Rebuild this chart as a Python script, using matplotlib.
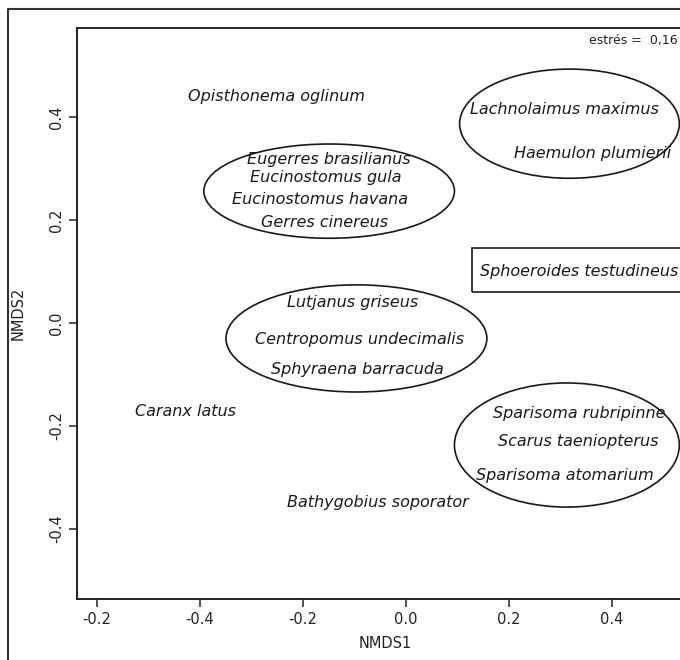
import matplotlib
matplotlib.use("Agg")
import matplotlib.pyplot as plt
from matplotlib.patches import Ellipse, Rectangle
from matplotlib.lines import Line2D

# ---- data ----
species = ["Opisthonema oglinum", "Lachnolaimus maximus", "Haemulon plumierii",
           "Eugerres brasilianus", "Eucinostomus gula", "Eucinostomus havana",
           "Gerres cinereus", "Sphoeroides testudineus", "Lutjanus griseus",
           "Centropomus undecimalis", "Sphyraena barracuda", "Caranx latus",
           "Sparisoma rubripinne", "Scarus taeniopterus", "Sparisoma atomarium",
           "Bathygobius soporator"]
nmds1 = [-0.252, 0.308, 0.363, -0.150, -0.155, -0.166, -0.157, 0.336,
         -0.103, -0.089, -0.095, -0.429, 0.337, 0.336, 0.309, -0.054]
nmds2 = [0.439, 0.415, 0.330, 0.317, 0.282, 0.239, 0.196, 0.099,
         0.039, -0.033, -0.091, -0.171, -0.175, -0.231, -0.297, -0.348]

# group ellipses: centre x, centre y, width, height
ell_x = [-0.149, 0.318, -0.096, 0.313]
ell_y = [0.256, 0.387, -0.030, -0.237]
ell_w = [0.487, 0.427, 0.507, 0.437]
ell_h = [0.183, 0.212, 0.208, 0.241]

# box around the isolated species: x0, y0, x1, y1
box = [0.128, 0.060, 0.60, 0.146]

x_ticks = [-0.6, -0.4, -0.2, 0.0, 0.2, 0.4]
x_ticklabels = ["-0.2", "-0.4", "-0.2", "0.0", "0.2", "0.4"]
y_ticks = [-0.4, -0.2, 0.0, 0.2, 0.4]
y_ticklabels = ["-0.4", "-0.2", "0.0", "0.2", "0.4"]
stress_text = "estrés =  0,16"

# ---- figure ----
W, H = 680, 660
fig = plt.figure(figsize=(W / 100, H / 100), dpi=100)
fig.patch.set_facecolor("white")

left_px, top_px, bottom_px, right_px = 77, 28, 599, 694
ax = fig.add_axes([left_px / W, 1 - bottom_px / H,
                   (right_px - left_px) / W, (bottom_px - top_px) / H])
ax.set_xlim(-0.639, 0.56)
ax.set_ylim(-0.536, 0.5728)

for s in ax.spines.values():
    s.set_linewidth(1.4)
    s.set_color("#222222")

ax.set_xticks(x_ticks)
ax.set_xticklabels(x_ticklabels)
ax.set_yticks(y_ticks)
ax.set_yticklabels(y_ticklabels, rotation=90, va="center")
ax.tick_params(direction="out", length=6, width=1.2, color="#333333",
               labelsize=10.5, labelcolor="#222222", pad=3)
ax.set_xlabel("NMDS1", fontsize=10.5, color="#222222", labelpad=7)
ax.set_ylabel("NMDS2", fontsize=10.5, color="#222222", labelpad=17)

for name, x, y in zip(species, nmds1, nmds2):
    ax.text(x, y, name, style="italic", fontsize=11.5, ha="center",
            va="center", color="#1a1a1a", family="DejaVu Sans")

for cx, cy, w, h in zip(ell_x, ell_y, ell_w, ell_h):
    ax.add_patch(Ellipse((cx, cy), w, h, fill=False, edgecolor="#1a1a1a",
                         linewidth=1.2))

ax.add_patch(Rectangle((box[0], box[1]), box[2] - box[0], box[3] - box[1],
                       fill=False, edgecolor="#1a1a1a", linewidth=1.2))

ax.text(0.528, 0.548, stress_text, fontsize=9, ha="right", va="center",
        color="#222222")

# outer frame of the figure panel
fig.add_artist(Line2D([8 / W, 8 / W, 1.05], [-0.05, 1 - 9 / H, 1 - 9 / H],
                      transform=fig.transFigure, color="#333333",
                      linewidth=1.5))

fig.savefig("out.png", dpi=100)
